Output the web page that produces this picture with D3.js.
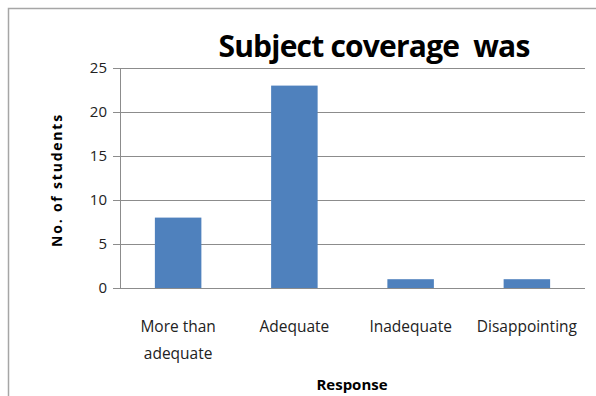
<!DOCTYPE html>
<html>
<head>
<meta charset="utf-8">
<script src="https://cdn.jsdelivr.net/npm/d3@7"></script>
<style>
  body { margin: 0; background: #fff; }
  text { font-family: "Open Sans", "Liberation Sans", sans-serif; white-space: pre; }
</style>
</head>
<body>
<script>
// chart data
var categories = ['More than adequate', 'Adequate', 'Inadequate', 'Disappointing'];
var labelLines = [['More than', 'adequate'], ['Adequate'], ['Inadequate'], ['Disappointing']];
var counts = [8, 23, 1, 1];
var yTicks = [0, 5, 10, 15, 20, 25];

var W = 596, H = 396;
var margin = { top: 68, right: 11, bottom: 108, left: 120 };
var width = W - margin.left - margin.right;
var height = H - margin.top - margin.bottom;

var svg = d3.select('body').append('svg')
    .attr('width', W)
    .attr('height', H);

// outer chart border (only top and left visible in the picture)
svg.append('path')
    .attr('d', 'M8.5,' + H + 'V8.5H' + W)
    .attr('fill', 'none')
    .attr('stroke', '#a6a6a6')
    .attr('stroke-width', 1.5);

var g = svg.append('g')
    .attr('transform', 'translate(' + margin.left + ',' + margin.top + ')');

var x = d3.scaleBand().domain(categories).range([0, width]).paddingInner(0.6).paddingOuter(0.3);
var y = d3.scaleLinear().domain([0, 25]).range([height, 0]);

// gridlines
g.selectAll('.grid')
    .data(yTicks.slice(1))
    .enter().append('line')
    .attr('x1', 0).attr('x2', width)
    .attr('y1', function(d) { return Math.round(y(d)) + 0.5; })
    .attr('y2', function(d) { return Math.round(y(d)) + 0.5; })
    .attr('stroke', '#8c8c8c');

// bars
g.selectAll('.bar')
    .data(counts)
    .enter().append('rect')
    .attr('class', 'bar')
    .attr('x', function(d, i) { return x(categories[i]); })
    .attr('y', function(d) { return y(d); })
    .attr('width', x.bandwidth())
    .attr('height', function(d) { return height - y(d); })
    .attr('fill', '#4f81bd');

// y axis
var yAxis = g.append('g')
    .call(d3.axisLeft(y).tickValues(yTicks).tickSize(7).tickPadding(6));
yAxis.select('.domain').attr('d', 'M0.5,0V' + height).attr('stroke', '#8c8c8c');
yAxis.selectAll('.tick line').attr('stroke', '#8c8c8c');
yAxis.selectAll('.tick text').attr('font-size', 15).attr('fill', '#222');

// x axis baseline
g.append('line')
    .attr('x1', 0).attr('x2', width)
    .attr('y1', height + 0.5).attr('y2', height + 0.5)
    .attr('stroke', '#8c8c8c');

// category labels
var lab = g.selectAll('.xlab')
    .data(categories)
    .enter().append('text')
    .attr('x', function(d) { return x(d) + x.bandwidth() / 2; })
    .attr('y', height + 44)
    .attr('text-anchor', 'middle')
    .attr('font-size', 15.5)
    .attr('fill', '#222');
lab.each(function(d, i) {
    var t = d3.select(this);
    labelLines[i].forEach(function(s, j) {
        t.append('tspan')
            .attr('x', x(d) + x.bandwidth() / 2)
            .attr('dy', j === 0 ? 0 : 27)
            .text(s);
    });
});

// title
svg.append('text')
    .attr('x', 374)
    .attr('y', 57)
    .attr('text-anchor', 'middle')
    .attr('font-size', 30)
    .attr('font-weight', 'bold')
    .attr('letter-spacing', -0.8)
    .text('Subject coverage  was');

// axis titles
svg.append('text')
    .attr('transform', 'translate(62,180) rotate(-90)')
    .attr('text-anchor', 'middle')
    .attr('font-size', 14)
    .attr('font-weight', 'bold')
    .attr('letter-spacing', 1.8)
    .text('No. of students');

svg.append('text')
    .attr('x', 352)
    .attr('y', 390)
    .attr('text-anchor', 'middle')
    .attr('font-size', 15)
    .attr('font-weight', 'bold')
    .text('Response');
</script>
</body>
</html>
